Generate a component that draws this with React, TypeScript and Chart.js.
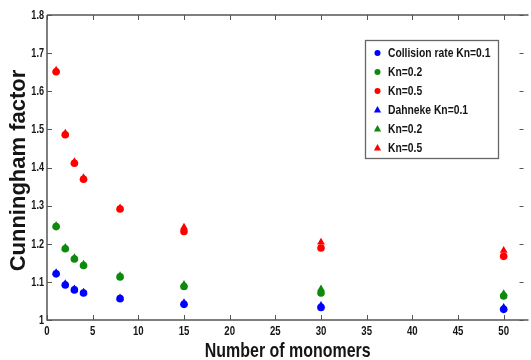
import React, { useEffect, useRef } from "react";
import { Chart, registerables } from "chart.js";

Chart.register(...registerables);

const monomers = [1, 2, 3, 4, 8, 15, 30, 50];
const collisionKn01 = [1.121, 1.092, 1.079, 1.071, 1.056, 1.041, 1.033, 1.028];
const collisionKn02 = [1.245, 1.187, 1.160, 1.143, 1.113, 1.088, 1.071, 1.063];
const collisionKn05 = [1.651, 1.486, 1.411, 1.369, 1.291, 1.232, 1.189, 1.167];
const dahnekeKn01 = [1.124, 1.095, 1.081, 1.073, 1.058, 1.045, 1.038, 1.033];
const dahnekeKn02 = [1.248, 1.190, 1.163, 1.146, 1.116, 1.093, 1.081, 1.069];
const dahnekeKn05 = [1.655, 1.490, 1.415, 1.373, 1.294, 1.243, 1.204, 1.182];
const xTicks = [0, 5, 10, 15, 20, 25, 30, 35, 40, 45, 50];
const yTicks = [1, 1.1, 1.2, 1.3, 1.4, 1.5, 1.6, 1.7, 1.8];
const seriesLabels = [
  "Collision rate Kn=0.1",
  "Kn=0.2",
  "Kn=0.5",
  "Dahneke Kn=0.1",
  "Kn=0.2",
  "Kn=0.5",
];
const xTitle = "Number of monomers";
const yTitle = "Cunningham factor";

const BLUE = "#0000ff";
const GREEN = "#0c8a0c";
const RED = "#ff0000";
const FONT = "'Liberation Sans', Arial, sans-serif";
const TEXT = "#151515";

const toPts = (ys: number[]) => monomers.map((x, i) => ({ x, y: ys[i] }));

function narrowText(ctx: any, text: string, x: number, y: number, sx: number, align: string) {
  ctx.save();
  ctx.translate(x, y);
  ctx.scale(sx, 1);
  ctx.textAlign = align;
  ctx.fillText(text, 0, 0);
  ctx.restore();
}

const framePlugin = {
  id: "frameTicks",
  afterDraw(chart: any) {
    const { ctx, chartArea: a, scales } = chart;
    const xs = scales.x;
    const ys = scales.y;
    ctx.save();
    // frame
    ctx.strokeStyle = "#555";
    ctx.lineWidth = 1.5;
    ctx.beginPath();
    ctx.moveTo(a.left, a.top);
    ctx.lineTo(a.right + 2, a.top);
    ctx.moveTo(a.left, a.top);
    ctx.lineTo(a.left, a.bottom);
    ctx.lineTo(a.right + 2, a.bottom);
    ctx.stroke();
    // inward ticks
    ctx.lineWidth = 1;
    const tl = 5;
    ctx.beginPath();
    xTicks.forEach((v) => {
      const px = Math.round(xs.getPixelForValue(v)) + 0.5;
      ctx.moveTo(px, a.bottom);
      ctx.lineTo(px, a.bottom - tl);
      ctx.moveTo(px, a.top);
      ctx.lineTo(px, a.top + tl);
    });
    yTicks.forEach((v) => {
      const py = Math.round(ys.getPixelForValue(v)) + 0.5;
      ctx.moveTo(a.left, py);
      ctx.lineTo(a.left + tl, py);
      ctx.moveTo(a.right - 7, py);
      ctx.lineTo(a.right - 3, py);
    });
    ctx.stroke();
    // tick labels
    ctx.fillStyle = TEXT;
    ctx.font = `bold 12px ${FONT}`;
    ctx.textBaseline = "middle";
    yTicks.forEach((v) => {
      const py = ys.getPixelForValue(v);
      narrowText(ctx, String(Number(v.toFixed(1))), a.left - 3, py + 0.5, 0.76, "right");
    });
    xTicks.forEach((v) => {
      const px = xs.getPixelForValue(v);
      narrowText(ctx, String(v), px, a.bottom + 12, 0.8, "center");
    });
    // axis titles
    ctx.textBaseline = "alphabetic";
    ctx.font = `bold 21px ${FONT}`;
    narrowText(ctx, xTitle, (a.left + a.right) / 2 + 1, 357, 0.76, "center");
    ctx.save();
    ctx.font = `bold 22px ${FONT}`;
    ctx.translate(25, (a.top + a.bottom) / 2 + 3);
    ctx.rotate(-Math.PI / 2);
    ctx.textAlign = "center";
    ctx.fillText(yTitle, 0, 0);
    ctx.restore();
    ctx.restore();
  },
};

const legendPlugin = {
  id: "boxLegend",
  afterDraw(chart: any) {
    const { ctx } = chart;
    const bx = 365.5, by = 40.5, bw = 133, bh = 118;
    ctx.save();
    ctx.fillStyle = "#fff";
    ctx.fillRect(bx, by, bw, bh);
    ctx.strokeStyle = "#666";
    ctx.lineWidth = 1.3;
    ctx.strokeRect(bx, by, bw, bh);
    ctx.font = `bold 12px ${FONT}`;
    ctx.textBaseline = "middle";
    chart.data.datasets.forEach((ds: any, i: number) => {
      const cy = 53 + i * 19;
      const cx = 377.5;
      ctx.fillStyle = ds.backgroundColor;
      ctx.beginPath();
      if (ds.pointStyle === "triangle") {
        ctx.moveTo(cx, cy - 4);
        ctx.lineTo(cx + 3.6, cy + 2.5);
        ctx.lineTo(cx - 3.6, cy + 2.5);
        ctx.closePath();
      } else {
        ctx.arc(cx, cy, 3, 0, Math.PI * 2);
      }
      ctx.fill();
      ctx.fillStyle = TEXT;
      narrowText(ctx, ds.label, 388, cy + 0.5, 0.86, "left");
    });
    ctx.restore();
  },
};

export default function App() {
  const ref = useRef<HTMLCanvasElement>(null);
  useEffect(() => {
    if (!ref.current) return;
    const mk = (label: string, ys: number[], color: string, style: string, r: number) => ({
      label,
      data: toPts(ys),
      backgroundColor: color,
      borderColor: color,
      pointStyle: style,
      pointRadius: r,
      pointBorderWidth: 0,
      showLine: false,
    });
    const chart = new Chart(ref.current, {
      type: "scatter",
      data: {
        datasets: [
          mk(seriesLabels[0], collisionKn01, BLUE, "circle", 3.8),
          mk(seriesLabels[1], collisionKn02, GREEN, "circle", 3.8),
          mk(seriesLabels[2], collisionKn05, RED, "circle", 3.8),
          mk(seriesLabels[3], dahnekeKn01, BLUE, "triangle", 4.5),
          mk(seriesLabels[4], dahnekeKn02, GREEN, "triangle", 4.5),
          mk(seriesLabels[5], dahnekeKn05, RED, "triangle", 4.5),
        ] as any,
      },
      options: {
        animation: false,
        responsive: false,
        maintainAspectRatio: false,
        layout: { padding: { top: 15, right: 0, left: 0, bottom: 0 } },
        plugins: { legend: { display: false }, tooltip: { enabled: false } },
        scales: {
          x: {
            type: "linear",
            min: 0,
            max: 52.5,
            grid: { display: false, drawTicks: false },
            border: { display: false },
            afterBuildTicks: (s: any) => {
              s.ticks = xTicks.map((v) => ({ value: v }));
            },
            afterFit: (s: any) => {
              s.height = 40;
            },
            ticks: { display: false },
            title: { display: false },
          },
          y: {
            type: "linear",
            min: 1,
            max: 1.8,
            grid: { display: false, drawTicks: false },
            border: { display: false },
            afterBuildTicks: (s: any) => {
              s.ticks = yTicks.map((v) => ({ value: v }));
            },
            afterFit: (s: any) => {
              s.width = 47;
            },
            ticks: { display: false },
            title: { display: false },
          },
        },
      },
      plugins: [framePlugin, legendPlugin],
    } as any);
    return () => chart.destroy();
  }, []);
  return (
    <div style={{ position: "fixed", left: 0, top: 0, width: 531, height: 360, background: "#fff" }}>
      <canvas ref={ref} width={531} height={360} style={{ display: "block" }} />
    </div>
  );
}
